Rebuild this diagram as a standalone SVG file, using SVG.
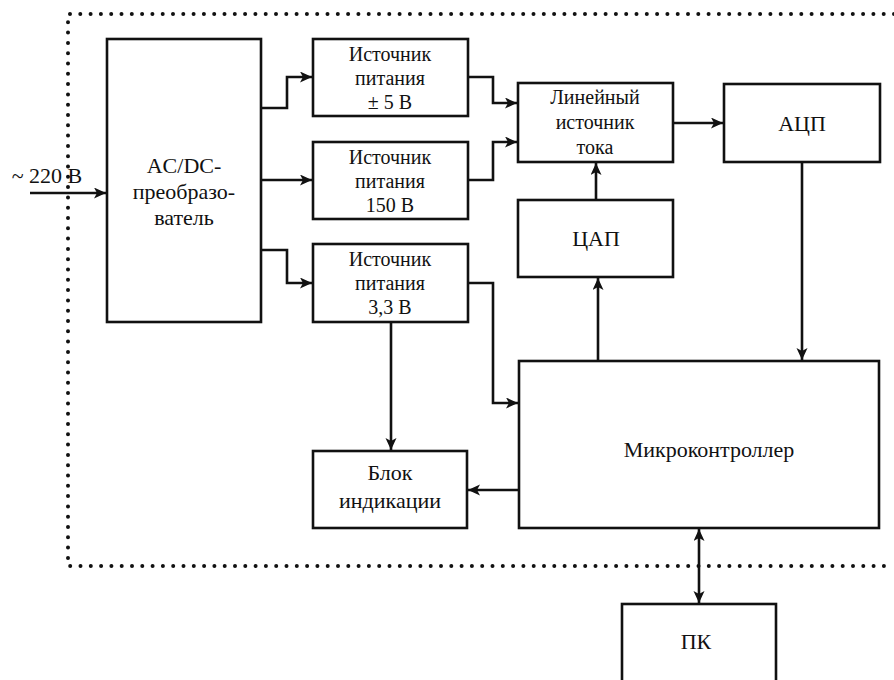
<svg xmlns="http://www.w3.org/2000/svg" width="894" height="680" viewBox="0 0 894 680">
<style>
.box{fill:#fff;stroke:#111;stroke-width:2.6}
.t{font-family:"Liberation Serif","DejaVu Serif","Times New Roman",serif;font-size:22px;fill:#111;text-anchor:middle}
.s{font-size:20px}
.c{fill:none;stroke:#111;stroke-width:2.6}
.dot{fill:none;stroke:#111;stroke-width:4;stroke-linecap:round;stroke-dasharray:0 10.3}
</style>
<defs>
<marker id="ah" markerUnits="userSpaceOnUse" markerWidth="14" markerHeight="12" refX="12" refY="5.5" orient="auto-start-reverse">
<path d="M0,0 L12,5.5 L0,11 L3,5.5 z" fill="#111"/>
</marker>
</defs>
<rect width="894" height="680" fill="#fff"/>
<path class="dot" d="M894,14 H68 V566 H894"/>
<g id="connectors">
<path class="c" d="M30,193 H106" marker-end="url(#ah)"/>
<path class="c" d="M261,108 H287 V77 H312" marker-end="url(#ah)"/>
<path class="c" d="M261,180 H312" marker-end="url(#ah)"/>
<path class="c" d="M261,250 H287 V283 H312" marker-end="url(#ah)"/>
<path class="c" d="M468,77 H493 V103 H517" marker-end="url(#ah)"/>
<path class="c" d="M468,180 H493 V142 H517" marker-end="url(#ah)"/>
<path class="c" d="M468,283 H493 V403 H518" marker-end="url(#ah)"/>
<path class="c" d="M391,322 V450" marker-end="url(#ah)"/>
<path class="c" d="M673,123 H723" marker-end="url(#ah)"/>
<path class="c" d="M596,200 V163" marker-end="url(#ah)"/>
<path class="c" d="M598,361 V278" marker-end="url(#ah)"/>
<path class="c" d="M802,162 V360" marker-end="url(#ah)"/>
<path class="c" d="M519,490 H468" marker-end="url(#ah)"/>
<path class="c" d="M699,529 V603" marker-start="url(#ah)" marker-end="url(#ah)"/>
</g>
<text class="t" x="47" y="183">~ 220 В</text>
<g id="acdc">
<rect class="box" x="107" y="39" width="154" height="283"/>
<text class="t" x="184" y="173">AC/DC-</text>
<text class="t" x="184" y="199">преобразо-</text>
<text class="t" x="184" y="225">ватель</text>
</g>
<g id="ps5">
<rect class="box" x="313" y="39" width="155" height="77"/>
<text class="t s" x="390" y="61">Источник</text>
<text class="t s" x="390" y="85">питания</text>
<text class="t s" x="390" y="109">± 5 В</text>
</g>
<g id="ps150">
<rect class="box" x="313" y="142" width="155" height="77"/>
<text class="t s" x="390" y="164">Источник</text>
<text class="t s" x="390" y="188">питания</text>
<text class="t s" x="390" y="212">150 В</text>
</g>
<g id="ps33">
<rect class="box" x="313" y="244" width="155" height="78"/>
<text class="t s" x="390" y="266">Источник</text>
<text class="t s" x="390" y="290">питания</text>
<text class="t s" x="390" y="314">3,3 В</text>
</g>
<g id="linear">
<rect class="box" x="518" y="83" width="155" height="79"/>
<text class="t s" x="595" y="104">Линейный</text>
<text class="t s" x="595" y="129">источник</text>
<text class="t s" x="595" y="154">тока</text>
</g>
<g id="adc">
<rect class="box" x="724" y="84" width="156" height="78"/>
<text class="t" x="802" y="131">АЦП</text>
</g>
<g id="dac">
<rect class="box" x="518" y="200" width="155" height="77"/>
<text class="t" x="596" y="246">ЦАП</text>
</g>
<g id="mcu">
<rect class="box" x="519" y="361" width="360" height="167"/>
<text class="t" x="709" y="457">Микроконтроллер</text>
</g>
<g id="ind">
<rect class="box" x="313" y="451" width="154" height="77"/>
<text class="t" x="390" y="480">Блок</text>
<text class="t" x="390" y="508">индикации</text>
</g>
<g id="pc">
<rect class="box" x="622" y="604" width="154" height="90"/>
<text class="t" x="696" y="649">ПК</text>
</g>
</svg>
